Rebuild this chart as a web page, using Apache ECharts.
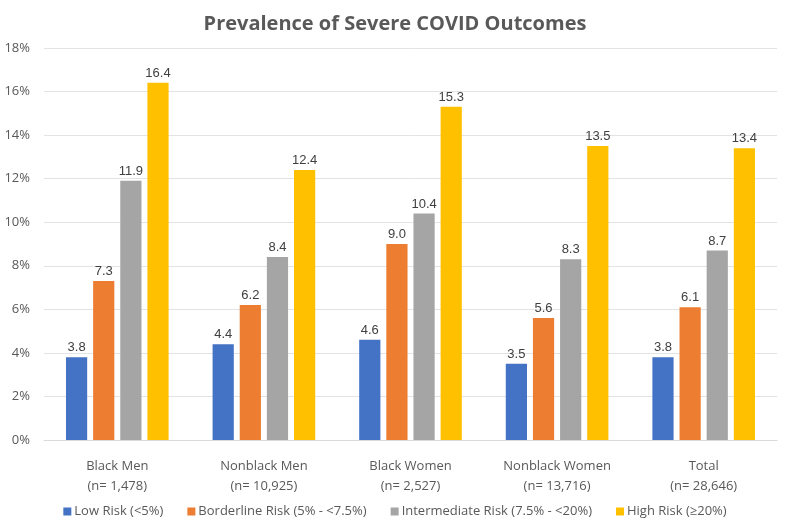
<!DOCTYPE html>
<html><head><meta charset="utf-8">
<script src="https://cdn.jsdelivr.net/npm/echarts@6/dist/echarts.min.js"></script>
<style>html,body{margin:0;padding:0;background:#fff}#c{width:790px;height:523px}</style>
</head><body><div id="c"></div>
<script>
const categories = ["Black Men\n(n= 1,478)", "Nonblack Men\n(n= 10,925)", "Black Women\n(n= 2,527)", "Nonblack Women\n(n= 13,716)", "Total\n(n= 28,646)"];
const seriesNames = ["Low Risk (<5%)", "Borderline Risk (5% - <7.5%)", "Intermediate Risk (7.5% - <20%)", "High Risk (≥20%)"];
const lowRisk = [3.8, 4.4, 4.6, 3.5, 3.8];
const borderlineRisk = [7.3, 6.2, 9.0, 5.6, 6.1];
const intermediateRisk = [11.9, 8.4, 10.4, 8.3, 8.7];
const highRisk = [16.4, 12.4, 15.3, 13.5, 13.4];
const colors = ["#4472C4", "#ED7D31", "#A5A5A5", "#FFC000"];
const font = "'Liberation Sans Narrow', 'Open Sans', sans-serif";
const values = [lowRisk, borderlineRisk, intermediateRisk, highRisk];
const chart = echarts.init(document.getElementById('c'));
chart.setOption({
  animation: false,
  color: colors,
  title: {text: "Prevalence of Severe COVID Outcomes", left: 'center', top: 9,
    textStyle: {fontFamily: font, fontSize: 20, fontWeight: 'bold', color: '#595959'}},
  legend: {bottom: 0, left: 'center', itemWidth: 8, itemHeight: 8, itemGap: 24, icon: 'rect',
    textStyle: {fontFamily: font, fontSize: 13, color: '#595959', padding: [0,0,0,-2]}},
  grid: {left: 44, right: 13, top: 48, bottom: 83},
  xAxis: {type: 'category', data: categories,
    axisLine: {lineStyle: {color: '#D9D9D9'}}, axisTick: {show: false},
    axisLabel: {fontFamily: font, fontSize: 13, color: '#595959', lineHeight: 20, margin: 16}},
  yAxis: {type: 'value', min: 0, max: 18, interval: 2,
    axisLabel: {formatter: '{value}%', fontFamily: font, fontSize: 13, color: '#595959', margin: 14},
    splitLine: {lineStyle: {color: '#E3E3E3'}}, axisLine: {show: false}, axisTick: {show: false}},
  series: values.map((v, i) => ({
    name: seriesNames[i], type: 'bar', data: v, barGap: '28%', barCategoryGap: '30%',
    label: {show: true, position: 'top', distance: 3, formatter: p => p.value.toFixed(1),
      fontFamily: "'Liberation Sans', Arial, sans-serif", fontSize: 13, color: '#404040'}
  }))
});
</script></body></html>
